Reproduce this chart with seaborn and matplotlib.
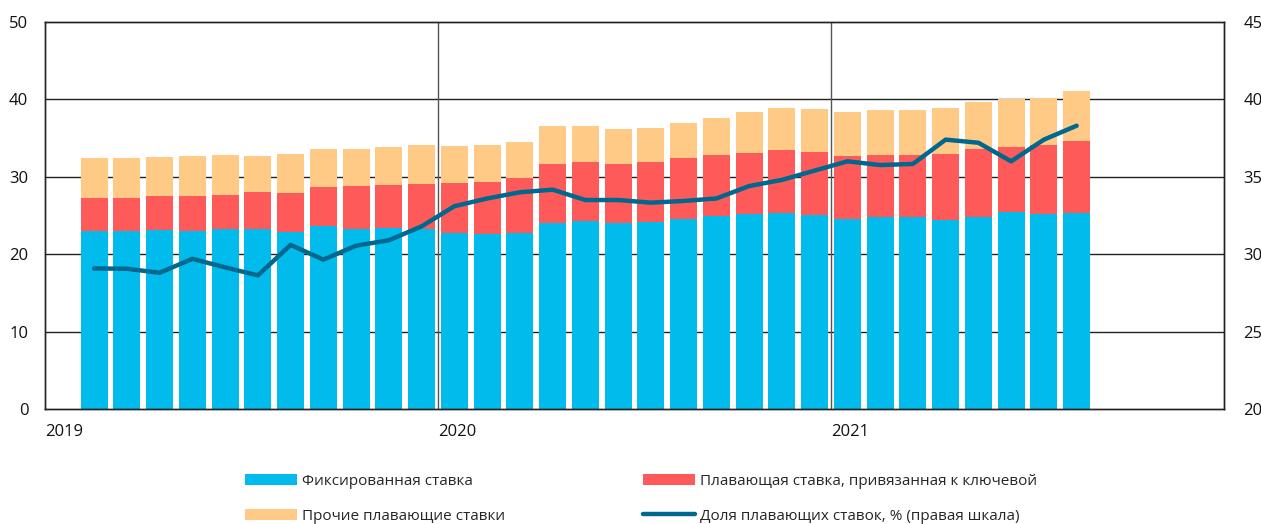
import matplotlib
matplotlib.use("Agg")
import matplotlib.pyplot as plt
import seaborn as sns
import numpy as np
import pandas as pd
from matplotlib.patches import Patch
from matplotlib.lines import Line2D

# ---- data ----
months = pd.period_range("2019-02", "2021-08", freq="M")
fixed = [22.95, 22.95, 23.1, 22.95, 23.2, 23.3, 22.85, 23.6, 23.3, 23.4, 23.25,
         22.75, 22.6, 22.75, 24.0, 24.3, 24.0, 24.2, 24.6, 24.9, 25.15, 25.3,
         25.05, 24.55, 24.8, 24.75, 24.4, 24.8, 25.5, 25.15, 25.3]
key_rate = [4.25, 4.25, 4.4, 4.6, 4.5, 4.7, 5.05, 5.1, 5.45, 5.6, 5.85,
            6.45, 6.7, 7.05, 7.6, 7.6, 7.6, 7.7, 7.8, 7.9, 7.95, 8.1,
            8.1, 8.15, 8.0, 8.05, 8.5, 8.8, 8.35, 9.0, 9.3]
other_float = [5.2, 5.25, 5.0, 5.15, 5.1, 4.7, 5.1, 4.9, 4.85, 4.9, 4.95,
               4.8, 4.8, 4.7, 4.9, 4.6, 4.6, 4.4, 4.6, 4.75, 5.3, 5.45,
               5.55, 5.7, 5.85, 5.8, 6.0, 6.0, 6.15, 6.05, 6.5]
float_share = [29.08, 29.06, 28.8, 29.7, 29.15, 28.63, 30.6, 29.65, 30.55, 30.9, 31.8,
               33.1, 33.6, 34.0, 34.17, 33.5, 33.5, 33.33, 33.44, 33.6, 34.4, 34.8,
               35.4, 36.0, 35.76, 35.83, 37.4, 37.2, 36.0, 37.4, 38.3]
year_labels = ["2019", "2020", "2021", ""]
labels = ["Фиксированная ставка",
          "Плавающая ставка, привязанная к ключевой",
          "Прочие плавающие ставки",
          "Доля плавающих ставок, % (правая шкала)"]

c_fixed = "#00BBEB"
c_key = "#FF5A5A"
c_other = "#FFCA86"
c_line = "#00688E"

sns.set_theme(style="white")
plt.rcParams["font.family"] = ["Open Sans", "DejaVu Sans"]

# month position (months since Jan 2019, centred in month)
xpos = np.array([(p.year - 2019) * 12 + (p.month - 1) + 0.5 for p in months])
df = pd.DataFrame({"x": xpos, "fixed": fixed, "key": key_rate, "other": other_float,
                   "share": float_share})
df["lvl2"] = df["fixed"] + df["key"]
df["lvl3"] = df["lvl2"] + df["other"]

fig = plt.figure(figsize=(12.61, 5.24), dpi=100)
ax = fig.add_axes([45 / 1261, 1 - 409 / 524, (1224 - 45) / 1261, (409 - 22) / 524])

for col, color in [("lvl3", c_other), ("lvl2", c_key), ("fixed", c_fixed)]:
    sns.barplot(data=df, x="x", y=col, native_scale=True, color=color, width=0.83,
                saturation=1, edgecolor=color, linewidth=0, ax=ax, zorder=2)

ax.set_xlim(0, 36)
ax.set_ylim(0, 50)
ax.set_yticks([0, 10, 20, 30, 40, 50])
ax.set_xticks([0, 12, 24, 36])
ax.set_xticklabels(year_labels, ha="left")
ax.set_xlabel("")
ax.set_ylabel("")
for y in [10, 20, 30, 40]:
    ax.axhline(y, color="#222222", lw=1.0, zorder=0.5)
for xv in [12, 24]:
    ax.axvline(xv, color="#555555", lw=1.0, zorder=0.5)
ax.tick_params(axis="y", length=0, pad=12, labelsize=12, colors="#111111")
ax.tick_params(axis="x", length=6, width=1, color="#222222", pad=5, labelsize=12,
               labelcolor="#111111", direction="out")
for s in ax.spines.values():
    s.set_color("#222222")
    s.set_linewidth(1.0)

ax2 = ax.twinx()
sns.lineplot(data=df, x="x", y="share", color=c_line, lw=3.2, ax=ax2, zorder=5)
ax2.set_ylim(20, 45)
ax2.set_yticks([20, 25, 30, 35, 40, 45])
ax2.set_ylabel("")
ax2.tick_params(axis="y", length=0, pad=14, labelsize=12, colors="#111111")
for s in ax2.spines.values():
    s.set_color("#222222")
    s.set_linewidth(1.0)
ax2.set_xlim(0, 36)

handles = [Patch(facecolor=c_fixed, edgecolor="none"),
           Patch(facecolor=c_key, edgecolor="none"),
           Patch(facecolor=c_other, edgecolor="none"),
           Line2D([0], [0], color=c_line, lw=3.2)]
order = [0, 2, 1, 3]
fig.legend([handles[i] for i in order], [labels[i] for i in order],
           loc="upper left", bbox_to_anchor=(245 / 1261, 1 - 474 / 524),
           ncol=2, frameon=False, fontsize=11, handlelength=3.4, handleheight=0.75,
           handletextpad=0.35, columnspacing=9.0, labelspacing=1.3, borderpad=0,
           borderaxespad=0)

fig.savefig("out.png", dpi=100)
